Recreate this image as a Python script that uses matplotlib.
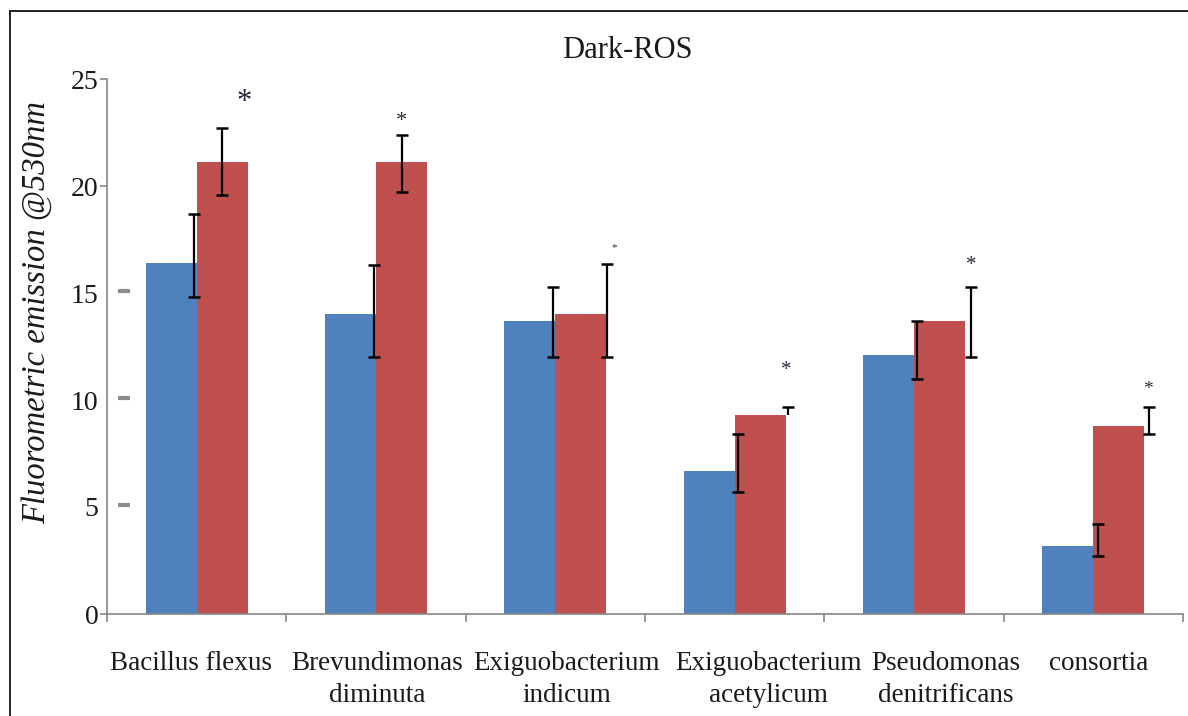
import matplotlib
matplotlib.use("Agg")
import matplotlib.pyplot as plt
import matplotlib.transforms as mtransforms
from matplotlib.lines import Line2D
import numpy as np

# ---- data ----
strains = ["Bacillus flexus", "Brevundimonas\ndiminuta", "Exiguobacterium\nindicum",
           "Exiguobacterium\nacetylicum", "Pseudomonas\ndenitrificans", "consortia"]
control = [16.4, 14.0, 13.7, 6.7, 12.1, 3.2]
treated = [21.1, 21.1, 14.0, 9.3, 13.7, 8.8]
# error bar bounds (low, high)
control_lo = [14.8, 12.0, 12.0, 5.7, 11.0, 2.7]
control_hi = [18.7, 16.3, 15.3, 8.4, 13.7, 4.2]
treated_lo = [19.6, 19.7, 12.0, 9.3, 12.0, 8.4]
treated_hi = [22.7, 22.4, 16.35, 9.65, 15.3, 9.65]
# significance markers
star_level = [23.9, 23.0, 17.1, 11.4, 16.3, 10.5]
y_ticks = [0, 5, 10, 15, 20, 25]

# ---- style ----
BLUE = "#4F81BD"
RED = "#C0504D"
AXIS = "#868686"
SERIF = "Liberation Serif"
bar_w = 0.285
ctrl_err_shift = [0.129, 0.133, 0.132, 0.163, 0.158, 0.169]
trt_err_shift = [0.0, 0.0, 0.144, 0.155, 0.173, 0.168]
star_shift = [0.121, 0.0, 0.184, 0.147, 0.178, 0.162]
star_size = [22, 16, 8, 15, 15, 14]
label_nudge_px = [-6, 1, 11, 34, 32, 5]

W, H = 1188, 716
fig = plt.figure(figsize=(W / 100, H / 100), dpi=100)
fig.patch.set_facecolor("white")
ax = fig.add_axes([107 / W, 102 / H, 1076 / W, 535 / H])

x = np.arange(len(strains))
ax.bar(x - bar_w / 2, control, width=bar_w, color=BLUE, zorder=2)
ax.bar(x + bar_w / 2, treated, width=bar_w, color=RED, zorder=2)


def draw_err(xs, vals, lo, hi):
    for xi, v, l, h in zip(xs, vals, lo, hi):
        ax.plot([xi, xi], [l, h], color="black", lw=1.6, zorder=4,
                solid_capstyle="butt")
        for end in (l, h):
            if abs(end - v) > 1e-9:
                ax.plot([xi], [end], marker="_", ms=8, mew=1.8,
                        color="black", zorder=4)


draw_err(x - bar_w / 2 + np.array(ctrl_err_shift), control, control_lo, control_hi)
draw_err(x + bar_w / 2 + np.array(trt_err_shift), treated, treated_lo, treated_hi)

for xi, s, sy, fs in zip(x, star_shift, star_level, star_size):
    ax.text(xi + bar_w / 2 + s, sy, "*", ha="center", va="center",
            fontsize=fs, family=SERIF, color="#2a2a3a", zorder=5)

ax.set_xlim(-0.5, len(strains) - 0.5)
ax.set_ylim(0, 25)

for side in ("top", "right"):
    ax.spines[side].set_visible(False)
for side in ("left", "bottom"):
    ax.spines[side].set_color(AXIS)
    ax.spines[side].set_linewidth(1.2)

ax.set_yticks(y_ticks)
ax.set_yticklabels([str(t) for t in y_ticks], family=SERIF, fontsize=20,
                   color="#1a1a1a")
ax.tick_params(axis="y", direction="out", length=5, width=1.2, color=AXIS, pad=1)
for t in ax.yaxis.get_major_ticks():
    if t.get_loc() in (5, 10, 15):
        t.tick1line.set_visible(False)
# short grey dashes standing in for the middle tick marks
dash_tr = mtransforms.blended_transform_factory(ax.transAxes, ax.transData)
for t in (5, 10, 15):
    ax.plot([0.0105, 0.0215], [t + 0.1, t + 0.1], transform=dash_tr,
            color="#8c8c8c", lw=3, solid_capstyle="butt", clip_on=False)

ax.set_xticks(x)
ax.set_xticklabels(strains, family=SERIF, fontsize=19.5, color="#1a1a1a",
                   linespacing=1.35)
ax.tick_params(axis="x", which="major", length=0, pad=27)
for lab, dx in zip(ax.get_xticklabels(), label_nudge_px):
    lab.set_transform(lab.get_transform() +
                      mtransforms.ScaledTranslation(dx / 100, 0, fig.dpi_scale_trans))
ax.set_xticks(np.arange(-0.5, len(strains)), minor=True)
ax.tick_params(axis="x", which="minor", direction="out", length=6, width=1.2,
               color=AXIS)

fig.text(627 / W, 1 - 50 / H, "Dark-ROS", ha="center", va="center",
         family=SERIF, fontsize=22, color="#1a1a1a")
fig.text(37 / W, 1 - 313 / H, "Fluorometric emission @530nm", rotation=90,
         ha="center", va="center", family=SERIF, style="italic", fontsize=23.5,
         color="#1a1a1a")

# outer frame (left and top edges)
fig.add_artist(Line2D([9.5 / W, 9.5 / W], [0, 1 - 11 / H], color="#222222",
                      lw=1.4, transform=fig.transFigure))
fig.add_artist(Line2D([9.5 / W, 1], [1 - 11 / H, 1 - 11 / H], color="#222222",
                      lw=1.4, transform=fig.transFigure))

fig.savefig("out.png", dpi=100, facecolor="white")
